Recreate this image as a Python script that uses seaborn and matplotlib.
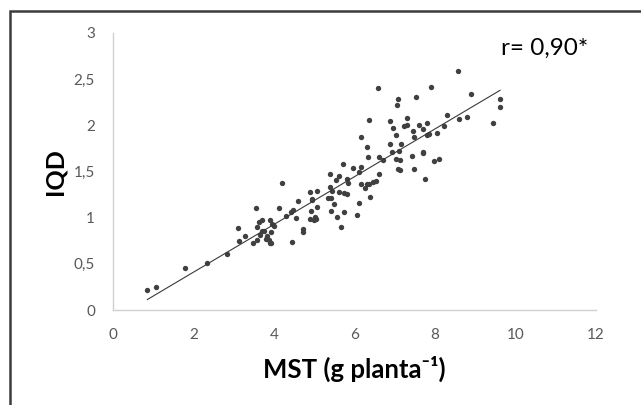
import matplotlib
matplotlib.use("Agg")
import matplotlib.pyplot as plt
from matplotlib.patches import Rectangle
import seaborn as sns

# Dry shoot mass (MST, g per plant) and the quality index (IQD)
mst = [0.85, 1.08, 1.80, 2.33, 2.84, 3.11, 3.13, 3.29, 3.47, 3.56,
       3.58, 3.58, 3.62, 3.65, 3.70, 3.69, 3.75, 3.79, 3.83, 3.87,
       3.90, 3.89, 3.93, 3.93, 3.96, 4.00, 4.12, 4.19, 4.31, 4.42,
       4.45, 4.46, 4.54, 4.59, 4.71, 4.71, 4.89, 4.89, 4.91, 4.94,
       4.94, 4.99, 5.03, 5.04, 5.08, 5.08, 5.33, 5.38, 5.39, 5.42,
       5.42, 5.44, 5.49, 5.53, 5.56, 5.61, 5.62, 5.66, 5.72, 5.73,
       5.75, 5.81, 5.82, 5.83, 5.97, 6.07, 6.11, 6.11, 6.15, 6.17,
       6.17, 6.26, 6.30, 6.31, 6.33, 6.35, 6.37, 6.38, 6.46, 6.54,
       6.58, 6.60, 6.62, 6.72, 6.88, 6.89, 6.94, 6.95, 7.02, 7.03,
       7.05, 7.08, 7.08, 7.12, 7.10, 7.14, 7.15, 7.23, 7.30, 7.31,
       7.43, 7.46, 7.48, 7.49, 7.54, 7.61, 7.69, 7.70, 7.71, 7.75,
       7.79, 7.79, 7.84, 7.90, 7.98, 8.04, 8.10, 8.22, 8.31, 8.56,
       8.59, 8.79, 8.90, 9.43, 9.62, 9.62]
iqd = [0.22, 0.25, 0.46, 0.51, 0.61, 0.89, 0.75, 0.80, 0.73, 1.10,
       0.90, 0.76, 0.95, 0.81, 0.97, 0.86, 0.86, 0.77, 0.80, 0.76,
       0.98, 0.73, 0.73, 0.84, 0.93, 0.91, 1.11, 1.38, 1.02, 1.06,
       0.74, 1.08, 1.00, 1.18, 0.88, 0.84, 1.28, 0.99, 1.07, 1.20,
       1.19, 0.97, 1.01, 0.99, 1.29, 1.12, 1.21, 1.47, 1.33, 1.21,
       1.07, 1.29, 1.15, 1.41, 1.01, 1.45, 1.28, 0.90, 1.58, 1.06,
       1.27, 1.42, 1.26, 1.38, 1.54, 1.03, 1.50, 1.16, 1.55, 1.87,
       1.37, 1.32, 1.36, 1.76, 1.66, 1.37, 2.06, 1.22, 1.39, 1.40,
       2.40, 1.66, 1.47, 1.62, 1.80, 2.05, 1.71, 1.97, 1.89, 1.64,
       2.22, 2.28, 1.53, 1.52, 1.72, 1.62, 1.80, 1.99, 2.08, 2.00,
       1.67, 1.94, 1.87, 1.53, 2.31, 2.00, 1.71, 1.96, 1.70, 1.42,
       2.02, 1.90, 1.91, 2.41, 1.61, 1.92, 1.63, 1.99, 2.11, 2.59,
       2.07, 2.09, 2.34, 2.03, 2.29, 2.20]

x_ticks = [0, 2, 4, 6, 8, 10, 12]
y_ticks = [0, 0.5, 1, 1.5, 2, 2.5, 3]
y_tick_labels = ["0", "0,5", "1", "1,5", "2", "2,5", "3"]
r_label = "r= 0,90*"

sns.set_theme(style="white")
plt.rcParams["font.family"] = ["Lato", "DejaVu Sans"]

fig = plt.figure(figsize=(6.41, 4.05), dpi=100)
ax = fig.add_axes([113 / 641, 1 - 310 / 405, 483 / 641, 277 / 405])

sns.regplot(x=mst, y=iqd, ax=ax, ci=None, truncate=True,
            scatter_kws=dict(s=15, color="#404040", linewidths=0, alpha=1),
            line_kws=dict(color="#3a3a3a", linewidth=0.8))

ax.set_xlim(0, 12)
ax.set_ylim(0, 3)
ax.set_xticks(x_ticks)
ax.set_xticklabels([str(t) for t in x_ticks])
ax.set_yticks(y_ticks)
ax.set_yticklabels(y_tick_labels)
ax.tick_params(axis="both", length=0, labelsize=11, labelcolor="#595959")
ax.tick_params(axis="x", pad=13)
ax.tick_params(axis="y", pad=13)

for side in ("top", "right"):
    ax.spines[side].set_visible(False)
for side in ("left", "bottom"):
    ax.spines[side].set_color("#d0d0d0")
    ax.spines[side].set_linewidth(1.0)

ax.set_xlabel("MST (g planta\u207b\u00b9)", fontsize=18.5,
              fontweight="bold", color="black", labelpad=10)
ax.set_ylabel("IQD", fontsize=18, fontweight="bold", color="black",
              labelpad=5)

ax.text(9.64, 2.83, r_label, fontsize=17.5, color="black",
        ha="left", va="center")

# outer chart frame, its right and bottom edges fall outside the canvas
fig.patches.append(Rectangle((10 / 641, -0.1), 700 / 641, 1.1 - 11 / 405,
                             transform=fig.transFigure, fill=False,
                             edgecolor="#3c3c3c", linewidth=1.8))

fig.savefig("out.png", dpi=100)
